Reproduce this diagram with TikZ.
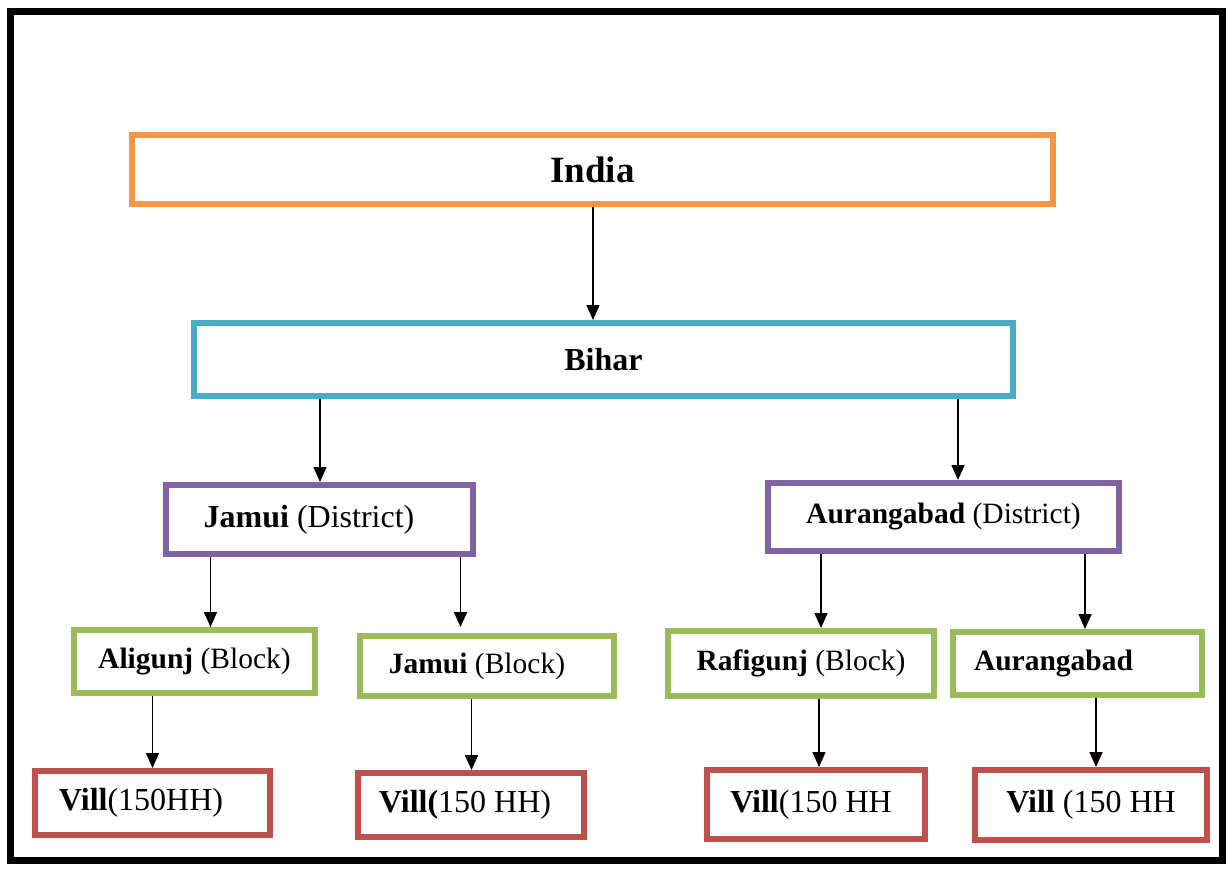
\documentclass[tikz,border=0pt]{standalone}
\usepackage{fontspec}
\setmainfont{Liberation Serif}
\usepackage{xcolor}
\usetikzlibrary{arrows.meta}

\definecolor{countryorange}{HTML}{F79646}
\definecolor{stateblue}{HTML}{4BACC6}
\definecolor{districtpurple}{HTML}{8064A2}
\definecolor{blockgreen}{HTML}{9BBB59}
\definecolor{villred}{HTML}{C0504D}

\begin{document}
\begin{tikzpicture}[
    x=0.5pt, y=-0.5pt,
    box/.style={
        rectangle,
        draw,
        line width=3pt,
        fill=white,
        align=center,
        inner sep=0pt
    },
    bigtext/.style={font=\fontsize{18.5}{22}\selectfont\bfseries},
    boldtext/.style={font=\fontsize{16}{19}\selectfont\bfseries},
    midtext/.style={font=\fontsize{16}{19}\selectfont},
    smalltext/.style={font=\fontsize{14.75}{18}\selectfont},
    arrow/.style={
        -{Triangle[length=7.5pt, width=6.5pt]},
        line width=0.75pt
    }
]
\useasboundingbox (0,0) rectangle (1230,868);
% === Outer frame ===
\draw[line width=3.5pt] (10,11) rectangle (1222.5,860);

% === Country and state ===
\node[box, draw=countryorange, bigtext, minimum width=460.5pt, minimum height=34.5pt] (india) at (592.5,169.5) {India};
\node[box, draw=stateblue, boldtext, minimum width=409.5pt, minimum height=36.5pt] (bihar) at (603.5,359.5) {Bihar};

% === Districts ===
\node[box, draw=districtpurple, midtext, minimum width=153.5pt, minimum height=34.5pt] (jamuidist) at (319.5,519.5) {\textbf{Jamui} (District)\hspace*{10.5pt}};
\node[box, draw=districtpurple, smalltext, minimum width=175.5pt, minimum height=34pt] (aurdist) at (943.5,517) {\textbf{Aurangabad} (District)};

% === Blocks ===
\node[box, draw=blockgreen, smalltext, minimum width=120.5pt, minimum height=31.5pt] (aligunj) at (194.5,661.5) {\textbf{Aligunj} (Block)};
\node[box, draw=blockgreen, smalltext, minimum width=127pt, minimum height=30pt] (jamuiblock) at (487,666) {\textbf{Jamui} (Block)\hspace*{10pt}};
\node[box, draw=blockgreen, smalltext, minimum width=133pt, minimum height=32.5pt] (rafigunj) at (801,663.5) {\textbf{Rafigunj} (Block)};
\node[box, draw=blockgreen, smalltext, inner xsep=10.5pt, text width=103.5pt, align=left, minimum height=31.5pt] (aurblock) at (1077.5,663.5) {\textbf{Aurangabad}};

% === Villages ===
\node[box, draw=villred, midtext, minimum width=117.5pt, minimum height=32pt] (vill1) at (152.5,803) {\textbf{Vill}(150HH)\hspace*{11.5pt}};
\node[box, draw=villred, midtext, minimum width=113pt, minimum height=32pt] (vill2) at (471,805) {\textbf{Vill(}150 HH)\hspace*{6pt}};
\node[box, draw=villred, midtext, minimum width=109pt, minimum height=34.5pt] (vill3) at (816,804.5) {\textbf{Vill}(150 HH\hspace*{5pt}};
\node[box, draw=villred, midtext, minimum width=116pt, minimum height=35pt] (vill4) at (1091,805) {\textbf{Vill} (150 HH};

% === Arrow columns ===
\coordinate (c1) at (593,0);
\coordinate (c2) at (320,0);
\coordinate (c3) at (958,0);
\coordinate (c4) at (210.5,0);
\coordinate (c5) at (460.5,0);
\coordinate (c6) at (821,0);
\coordinate (c7) at (1085,0);
\coordinate (c8) at (152.5,0);
\coordinate (c9) at (471.5,0);
\coordinate (c10) at (819,0);
\coordinate (c11) at (1096,0);

% === Arrows ===
\draw[arrow] (india.south -| c1) -- (bihar.north -| c1);
\draw[arrow] (bihar.south -| c2) -- (jamuidist.north -| c2);
\draw[arrow] (bihar.south -| c3) -- (aurdist.north -| c3);
\draw[arrow] (jamuidist.south -| c4) -- (aligunj.north -| c4);
\draw[arrow, shorten >=3pt] (jamuidist.south -| c5) -- (jamuiblock.north -| c5);
\draw[arrow] (aurdist.south -| c6) -- (rafigunj.north -| c6);
\draw[arrow] (aurdist.south -| c7) -- (aurblock.north -| c7);
\draw[arrow] (aligunj.south -| c8) -- (vill1.north -| c8);
\draw[arrow] (jamuiblock.south -| c9) -- (vill2.north -| c9);
\draw[arrow] (rafigunj.south -| c10) -- (vill3.north -| c10);
\draw[arrow] (aurblock.south -| c11) -- (vill4.north -| c11);
\end{tikzpicture}
\end{document}
